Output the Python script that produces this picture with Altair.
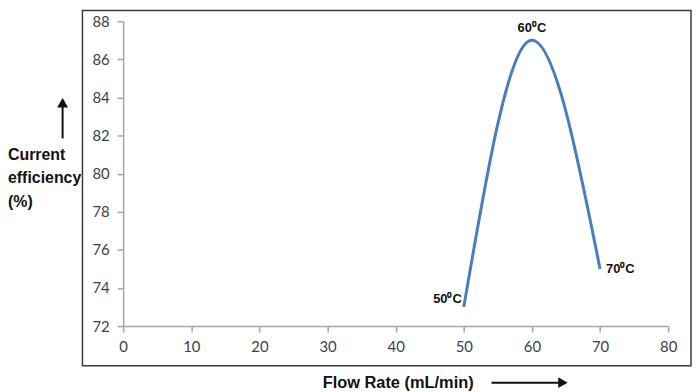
import altair as alt
import pandas as pd

# Data
flow = [50, 60, 70]
eff = [73, 87, 75]
labels = ["50⁰C", "60⁰C", "70⁰C"]
x_ticks = [0, 10, 20, 30, 40, 50, 60, 70, 80]
y_ticks = [72, 74, 76, 78, 80, 82, 84, 86, 88]
y_title_lines = ["Current", "efficiency", "(%)"]
x_title = "Flow Rate (mL/min)"

W, H = 549, 307
TITLE_FONT = "Liberation Sans"

df = pd.DataFrame({"flow": flow, "eff": eff, "label": labels})
one = pd.DataFrame({"k": [0]})

axis_common = dict(
    title="",
    grid=False,
    domainColor="#a6a6a6",
    domainWidth=1.5,
    tickColor="#a6a6a6",
    tickWidth=1.5,
    tickSize=6,
    labelFont="Lato",
    labelFontSize=15,
    labelColor="#3a3f48",
    labelOverlap=False,
    labelFlush=False,
)

x_enc = alt.X(
    "flow:Q",
    scale=alt.Scale(domain=[0, 80], nice=False, zero=False),
    axis=alt.Axis(values=x_ticks, labelPadding=8, **axis_common),
)
y_enc = alt.Y(
    "eff:Q",
    scale=alt.Scale(domain=[72, 88], nice=False, zero=False),
    axis=alt.Axis(values=y_ticks, labelPadding=8, **axis_common),
)

base = alt.Chart(df)

line = base.mark_line(
    interpolate="monotone", color="#4a7ebb", strokeWidth=3
).encode(x=x_enc, y=y_enc)

label_style = dict(font=TITLE_FONT, fontSize=13, fontWeight="bold", color="#111111")
lab50 = base.transform_filter(alt.datum.flow == 50).mark_text(
    align="right", baseline="middle", dx=-2, dy=-8, **label_style
).encode(x=x_enc, y=y_enc, text="label:N")
lab60 = base.transform_filter(alt.datum.flow == 60).mark_text(
    align="center", baseline="middle", dx=0, dy=-12, **label_style
).encode(x=x_enc, y=y_enc, text="label:N")
lab70 = base.transform_filter(alt.datum.flow == 70).mark_text(
    align="left", baseline="middle", dx=6, dy=0, **label_style
).encode(x=x_enc, y=y_enc, text="label:N")

deco = alt.Chart(one)

# outer frame
frame = deco.mark_rect(
    fillOpacity=0, stroke="#3a3a3a", strokeWidth=1.5
).encode(
    x=alt.value(-41), x2=alt.value(572), y=alt.value(-11), y2=alt.value(347)
)

title_style = dict(font=TITLE_FONT, fontSize=16, fontWeight="bold", color="#111111")
y_title_layers = []
for txt, yy in zip(y_title_lines, [135, 158, 182]):
    y_title_layers.append(
        deco.mark_text(align="left", baseline="middle", **title_style).encode(
            x=alt.value(-116), y=alt.value(yy), text=alt.value(txt)
        )
    )

x_title_mark = deco.mark_text(
    align="center", baseline="middle", font=TITLE_FONT, fontSize=16.5,
    fontWeight="bold", color="#111111"
).encode(x=alt.value(277), y=alt.value(364), text=alt.value(x_title))

# arrows
up_shaft = deco.mark_rule(color="#111111", strokeWidth=2).encode(
    x=alt.value(-61), y=alt.value(118), y2=alt.value(86)
)
up_head = deco.mark_point(
    shape="triangle-up", filled=True, color="#111111", size=120, opacity=1
).encode(x=alt.value(-61), y=alt.value(82))

right_shaft = deco.mark_rule(color="#111111", strokeWidth=2).encode(
    x=alt.value(371), x2=alt.value(440), y=alt.value(364)
)
right_head = deco.mark_point(
    shape="triangle-right", filled=True, color="#111111", size=120, opacity=1
).encode(x=alt.value(443), y=alt.value(364))

chart = alt.layer(
    frame, line, lab50, lab60, lab70, *y_title_layers, x_title_mark,
    up_shaft, up_head, right_shaft, right_head
).properties(
    width=W,
    height=H,
    autosize=alt.AutoSizeParams(type="none"),
    padding={"left": 116, "top": 12, "right": 24, "bottom": 64},
).configure_view(strokeWidth=0)

chart.save("out.html", embed_options={"renderer": "svg", "actions": False})
